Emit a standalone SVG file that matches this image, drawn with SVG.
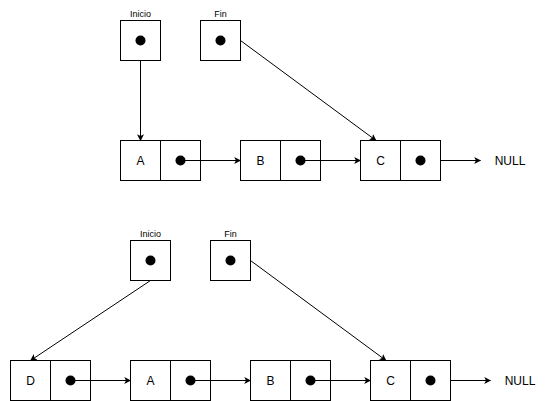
<svg xmlns="http://www.w3.org/2000/svg" width="551" height="401" viewBox="0 0 551 401">
  <style>
    .box { fill: #ffffff; stroke: #000000; stroke-width: 1; }
    .dot { fill: #000000; }
    .lbl { font-family: "Liberation Sans", Arial, sans-serif; font-size: 12px; fill: #000000; text-anchor: middle; dominant-baseline: central; }
    .cap { font-family: "Liberation Sans", Arial, sans-serif; font-size: 9px; fill: #000000; text-anchor: middle; }
    .edge { fill: none; stroke: #000000; stroke-width: 1; marker-end: url(#arrow); }
  </style>
  <defs>
    <marker id="arrow" viewBox="0 0 10 10" refX="9" refY="5" markerWidth="7" markerHeight="7" orient="auto" markerUnits="userSpaceOnUse">
      <path d="M0,0 L10,5 L0,10 L2.5,5 Z" fill="#000000"/>
    </marker>
  </defs>
  <rect width="551" height="401" fill="#ffffff"/>

  <!-- First list: A -> B -> C -> NULL -->
  <g id="inicio1">
    <rect class="box" x="120.5" y="20.5" width="40" height="40"/>
    <circle class="dot" cx="140.5" cy="40.5" r="5"/>
    <text class="cap" x="140.5" y="17">Inicio</text>
  </g>
  <g id="fin1">
    <rect class="box" x="200.5" y="20.5" width="40" height="40"/>
    <circle class="dot" cx="220.5" cy="40.5" r="5"/>
    <text class="cap" x="220.5" y="17">Fin</text>
  </g>
  <g id="a1">
    <rect class="box" x="120.5" y="140.5" width="40" height="40"/>
    <rect class="box" x="160.5" y="140.5" width="40" height="40"/>
    <text class="lbl" x="140.5" y="160.5">A</text>
    <circle class="dot" cx="180.5" cy="160.5" r="5"/>
  </g>
  <g id="b1">
    <rect class="box" x="240.5" y="140.5" width="40" height="40"/>
    <rect class="box" x="280.5" y="140.5" width="40" height="40"/>
    <text class="lbl" x="260.5" y="160.5">B</text>
    <circle class="dot" cx="300.5" cy="160.5" r="5"/>
  </g>
  <g id="c1">
    <rect class="box" x="360.5" y="140.5" width="40" height="40"/>
    <rect class="box" x="400.5" y="140.5" width="40" height="40"/>
    <text class="lbl" x="380.5" y="160.5">C</text>
    <circle class="dot" cx="420.5" cy="160.5" r="5"/>
  </g>
  <g id="null1">
    <text class="lbl" x="510" y="160.5">NULL</text>
  </g>

  <!-- Second list: D -> A -> B -> C -> NULL -->
  <g id="inicio2">
    <rect class="box" x="130.5" y="240.5" width="40" height="40"/>
    <circle class="dot" cx="150.5" cy="260.5" r="5"/>
    <text class="cap" x="150.5" y="237">Inicio</text>
  </g>
  <g id="fin2">
    <rect class="box" x="210.5" y="240.5" width="40" height="40"/>
    <circle class="dot" cx="230.5" cy="260.5" r="5"/>
    <text class="cap" x="230.5" y="237">Fin</text>
  </g>
  <g id="d2">
    <rect class="box" x="10.5" y="360.5" width="40" height="40"/>
    <rect class="box" x="50.5" y="360.5" width="40" height="40"/>
    <text class="lbl" x="30.5" y="380.5">D</text>
    <circle class="dot" cx="70.5" cy="380.5" r="5"/>
  </g>
  <g id="a2">
    <rect class="box" x="130.5" y="360.5" width="40" height="40"/>
    <rect class="box" x="170.5" y="360.5" width="40" height="40"/>
    <text class="lbl" x="150.5" y="380.5">A</text>
    <circle class="dot" cx="190.5" cy="380.5" r="5"/>
  </g>
  <g id="b2">
    <rect class="box" x="250.5" y="360.5" width="40" height="40"/>
    <rect class="box" x="290.5" y="360.5" width="40" height="40"/>
    <text class="lbl" x="270.5" y="380.5">B</text>
    <circle class="dot" cx="310.5" cy="380.5" r="5"/>
  </g>
  <g id="c2">
    <rect class="box" x="370.5" y="360.5" width="40" height="40"/>
    <rect class="box" x="410.5" y="360.5" width="40" height="40"/>
    <text class="lbl" x="390.5" y="380.5">C</text>
    <circle class="dot" cx="430.5" cy="380.5" r="5"/>
  </g>
  <g id="null2">
    <text class="lbl" x="520" y="380.5">NULL</text>
  </g>

  <!-- Connectors -->
  <g id="connectors">
    <path class="edge" d="M140.5,60.5 L140.5,140.5"/>
    <path class="edge" d="M240.5,40.5 L376,140.5"/>
    <path class="edge" d="M180.5,160.5 L240.5,160.5"/>
    <path class="edge" d="M300.5,160.5 L360.5,160.5"/>
    <path class="edge" d="M440.5,160.5 L480.5,160.5"/>

    <path class="edge" d="M150.5,280.5 L30.5,360.5"/>
    <path class="edge" d="M250.5,260.5 L386,360.5"/>
    <path class="edge" d="M70.5,380.5 L130.5,380.5"/>
    <path class="edge" d="M190.5,380.5 L250.5,380.5"/>
    <path class="edge" d="M310.5,380.5 L370.5,380.5"/>
    <path class="edge" d="M450.5,380.5 L490.5,380.5"/>
  </g>
</svg>
